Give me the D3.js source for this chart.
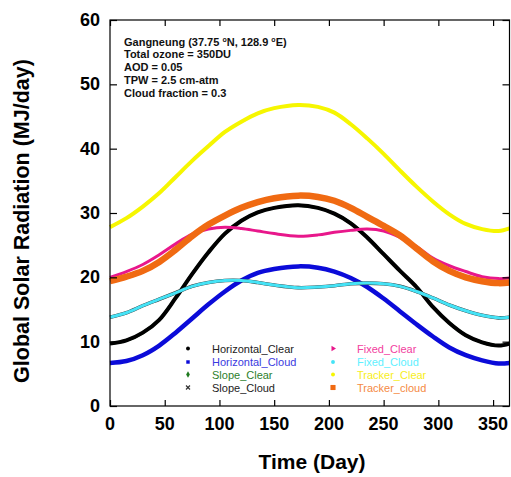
<!DOCTYPE html>
<html>
<head>
<meta charset="utf-8">
<script src="https://cdn.jsdelivr.net/npm/d3@7"></script>
<style>
body { margin: 0; background: #fff; }
text { font-family: Arial, "Liberation Sans", sans-serif; }
</style>
</head>
<body>
<svg id="chart" width="511" height="477"></svg>
<script>
var days = [0, 15, 30, 45, 60, 75, 90, 105, 120, 135, 150, 172, 190, 205, 220, 235, 250, 265, 280, 295, 310, 325, 340, 355, 365];

var horizontalClear = [9.7, 10.2, 11.4, 13.4, 16.8, 20.5, 23.9, 26.8, 28.8, 30.1, 30.8, 31.2, 30.8, 29.9, 28.4, 26.2, 23.6, 21.0, 18.5, 15.4, 12.9, 11.0, 9.9, 9.4, 9.7];
var horizontalCloud = [6.7, 7.0, 7.9, 9.4, 11.4, 13.6, 15.8, 17.8, 19.5, 20.7, 21.3, 21.7, 21.5, 20.9, 19.9, 18.5, 16.7, 14.7, 12.7, 10.8, 9.1, 7.9, 7.1, 6.6, 6.7];
var fixedClear = [20.0, 20.9, 22.0, 23.5, 25.2, 26.7, 27.5, 27.8, 27.6, 27.2, 26.8, 26.4, 26.6, 27.0, 27.3, 27.5, 27.2, 26.2, 24.8, 23.0, 21.8, 20.9, 20.1, 19.8, 19.9];
var fixedCloud = [13.8, 14.5, 15.6, 16.6, 17.6, 18.6, 19.2, 19.5, 19.5, 19.2, 18.8, 18.4, 18.5, 18.7, 19.0, 19.1, 19.0, 18.6, 17.8, 16.8, 15.7, 14.8, 14.1, 13.7, 13.8];
var trackerClear = [27.8, 29.2, 31.0, 33.1, 35.6, 38.1, 40.4, 42.6, 44.2, 45.5, 46.3, 46.8, 46.5, 45.6, 43.8, 41.6, 39.2, 36.6, 34.1, 31.8, 29.8, 28.3, 27.5, 27.2, 27.6];
var trackerCloud = [19.4, 20.1, 21.0, 22.4, 24.3, 26.4, 28.2, 29.6, 30.8, 31.7, 32.3, 32.7, 32.5, 31.9, 30.8, 29.4, 28.0, 26.5, 24.5, 22.5, 21.0, 20.0, 19.4, 19.1, 19.2];
// slope surfaces are hidden under other curves in the picture
var slopeClear = horizontalClear;
var slopeCloud = fixedCloud;

var xTicks = [0, 50, 100, 150, 200, 250, 300, 350];
var yTicks = [0, 10, 20, 30, 40, 50, 60];

var infoLines = ["Gangneung (37.75 |N, 128.9 |E)", "Total ozone = 350DU", "AOD = 0.05", "TPW = 2.5 cm-atm", "Cloud fraction = 0.3"];

var series = [
    {name: "Horizontal_Clear", values: horizontalClear, color: "#000000", text: "#222222", width: 4, marker: "circle"},
    {name: "Horizontal_Cloud", values: horizontalCloud, color: "#0b0bd9", text: "#3a3ae0", width: 4.5, marker: "square"},
    {name: "Slope_Clear", values: slopeClear, color: "#1f7a1f", text: "#2d7f2d", width: 3, marker: "diamond"},
    {name: "Slope_Cloud", values: slopeCloud, color: "#333333", text: "#222222", width: 3.6, marker: "cross"},
    {name: "Fixed_Clear", values: fixedClear, color: "#e8178b", text: "#f2409e", width: 3, marker: "triangle"},
    {name: "Fixed_Cloud", values: fixedCloud, color: "#45e3f6", text: "#5ef0ff", width: 3, marker: "circle"},
    {name: "Tracker_Clear", values: trackerClear, color: "#f6f600", text: "#f7ee1a", width: 4, marker: "circle"},
    {name: "Tracker_cloud", values: trackerCloud, color: "#f06a12", text: "#f58a44", width: 6.5, marker: "square"}
];

var svg = d3.select("#chart");
var box = {left: 110, right: 509.5, top: 20, bottom: 406};

var x = d3.scaleLinear().domain([0, 365]).range([box.left, box.right]);
var y = d3.scaleLinear().domain([0, 60]).range([box.bottom, box.top]);

var line = d3.line()
    .x(function(d) { return x(d[0]); })
    .y(function(d) { return y(d[1]); })
    .curve(d3.curveCatmullRom.alpha(0.5));

var plot = svg.append("g");

// slope clear goes first so the black line covers it
var drawOrder = [2, 0, 1, 3, 4, 5, 6, 7];
drawOrder.forEach(function(k) {
    var s = series[k];
    plot.append("path")
	.datum(days.map(function(d, i) { return [d, s.values[i]]; }))
	.attr("fill", "none")
	.attr("stroke", s.color)
	.attr("stroke-width", s.width)
	.attr("stroke-linejoin", "round")
	.attr("d", line);
});

// frame with inward ticks on all four sides
svg.append("rect")
    .attr("x", box.left).attr("y", box.top)
    .attr("width", box.right - box.left).attr("height", box.bottom - box.top)
    .attr("fill", "none").attr("stroke", "#000").attr("stroke-width", 1.2);

svg.append("g").attr("transform", "translate(0," + box.bottom + ")")
    .call(d3.axisBottom(x).tickValues(xTicks).tickSize(-6).tickFormat(""))
    .call(function(g) { g.select(".domain").remove(); });
svg.append("g").attr("transform", "translate(0," + box.top + ")")
    .call(d3.axisTop(x).tickValues(xTicks).tickSize(-6).tickFormat(""))
    .call(function(g) { g.select(".domain").remove(); });
svg.append("g").attr("transform", "translate(" + box.left + ",0)")
    .call(d3.axisLeft(y).tickValues(yTicks).tickSize(-7).tickFormat(""))
    .call(function(g) { g.select(".domain").remove(); });
svg.append("g").attr("transform", "translate(" + box.right + ",0)")
    .call(d3.axisRight(y).tickValues(yTicks).tickSize(-7).tickFormat(""))
    .call(function(g) { g.select(".domain").remove(); });

svg.selectAll(".tick line").attr("stroke", "#000").attr("stroke-width", 1.2);

// tick labels
svg.append("g").selectAll("text")
    .data(xTicks)
    .enter()
    .append("text")
    .attr("x", function(d) { return x(d); })
    .attr("y", 430)
    .attr("text-anchor", "middle")
    .style("font-size", "18px").style("font-weight", "bold")
    .text(function(d) { return d; });

svg.append("g").selectAll("text")
    .data(yTicks)
    .enter()
    .append("text")
    .attr("x", 100)
    .attr("y", function(d) { return y(d) + 6; })
    .attr("text-anchor", "end")
    .style("font-size", "18px").style("font-weight", "bold")
    .text(function(d) { return d; });

svg.append("text")
    .attr("x", 312).attr("y", 469)
    .attr("text-anchor", "middle")
    .style("font-size", "21px").style("font-weight", "bold")
    .text("Time (Day)");

svg.append("text")
    .attr("transform", "translate(29,221) rotate(-90)")
    .attr("text-anchor", "middle")
    .style("font-size", "21.5px").style("font-weight", "bold")
    .text("Global Solar Radiation (MJ/day)");

// site info, | stands for the raised degree sign
var info = svg.append("g");
infoLines.forEach(function(t, i) {
    var txt = info.append("text")
	.attr("x", 124).attr("y", 45.5 + i * 12.75)
	.style("font-size", "11px").style("font-weight", "bold")
	.attr("fill", "#111");
    t.split("|").forEach(function(part, j) {
	if (j > 0) {
	    txt.append("tspan").attr("dy", -4).style("font-size", "7px").text("o");
	    txt.append("tspan").attr("dy", 4).text(part);
	} else {
	    txt.append("tspan").text(part);
	}
    });
});

// legend, two columns of four
var legend = svg.append("g");
var rowY = [348.5, 362, 374.5, 387.5];
series.forEach(function(s, i) {
    var col = Math.floor(i / 4), row = i % 4;
    var mx = col == 0 ? 188 : 333;
    var my = rowY[row];
    var sym = {circle: d3.symbolCircle, square: d3.symbolSquare, diamond: d3.symbolDiamond,
	       cross: d3.symbolX, triangle: d3.symbolTriangle}[s.marker];
    var size = s.name == "Tracker_cloud" ? 26 : 12;
    legend.append("path")
	.attr("d", d3.symbol().type(sym).size(size))
	.attr("transform", "translate(" + mx + "," + my + ")" + (s.marker == "triangle" ? " rotate(90)" : ""))
	.attr("fill", s.marker == "cross" ? "none" : s.color)
	.attr("stroke", s.marker == "cross" ? s.color : "none")
	.attr("stroke-width", 1.2);
    legend.append("text")
	.attr("x", mx + 24).attr("y", my + 4)
	.style("font-size", "11px")
	.attr("fill", s.text)
	.text(s.name);
});
</script>
</body>
</html>
